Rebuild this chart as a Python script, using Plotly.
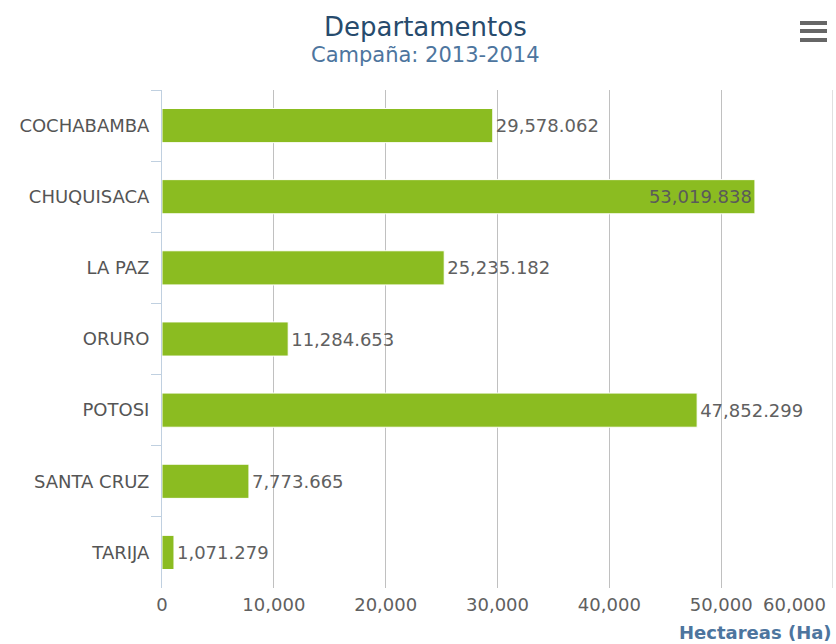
import plotly.graph_objects as go

# Data
departamentos = ["COCHABAMBA", "CHUQUISACA", "LA PAZ", "ORURO", "POTOSI", "SANTA CRUZ", "TARIJA"]
hectareas = [29578.062, 53019.838, 25235.182, 11284.653, 47852.299, 7773.665, 1071.279]
x_tick_vals = [0, 10000, 20000, 30000, 40000, 50000]
x_tick_text = ["0", "10,000", "20,000", "30,000", "40,000", "50,000"]
x_max = 60000
x_max_label = "60,000"
title_text = "Departamentos"
subtitle_text = "Campaña: 2013-2014"
axis_title = "Hectareas (Ha)"

W, H = 836, 644
L, R, T, B = 162, 3, 90, 56
PW = W - L - R
PH = H - T - B

def px_x(px):
    return (px - L) / PW

def px_y(py):
    return (H - B - py) / PH

FONT = "DejaVu Sans"

text_pos = ["inside" if v > 50000 else "outside" for v in hectareas]

fig = go.Figure()
fig.add_trace(go.Bar(
    y=departamentos,
    x=hectareas,
    orientation="h",
    marker=dict(color="#8BBC21", line=dict(color="#FFFFFF", width=1)),
    texttemplate="%{x:,.3f}",
    textposition=text_pos,
    insidetextanchor="end",
    textfont=dict(family=FONT, size=18, color="#606060"),
    insidetextfont=dict(family=FONT, size=18, color="#5a5a5a"),
    outsidetextfont=dict(family=FONT, size=18, color="#606060"),
    cliponaxis=False,
    hoverinfo="skip",
))

fig.update_layout(
    width=W, height=H,
    margin=dict(l=L, r=R, t=T, b=B, pad=0),
    paper_bgcolor="white",
    plot_bgcolor="white",
    showlegend=False,
    bargap=0.52,
    font=dict(family=FONT, color="#606060"),
    uniformtext=dict(mode=False),
)

fig.update_xaxes(
    range=[0, x_max],
    tickvals=x_tick_vals,
    ticktext=x_tick_text,
    showgrid=True,
    gridcolor="#C0C0C0",
    gridwidth=1,
    zeroline=False,
    showline=False,
    ticks="",
    ticklabelstandoff=4,
    tickfont=dict(family=FONT, size=18, color="#606060"),
    fixedrange=True,
)

fig.update_yaxes(
    categoryorder="array",
    categoryarray=departamentos,
    autorange="reversed",
    showgrid=False,
    zeroline=False,
    showline=True,
    linecolor="#C0D0E0",
    linewidth=1,
    ticks="outside",
    tickson="boundaries",
    ticklen=10,
    tickcolor="#C0D0E0",
    ticklabelstandoff=8,
    tickfont=dict(family=FONT, size=18, color="#555555"),
    fixedrange=True,
)

# extra gridline at the max
fig.add_shape(type="line", xref="x", yref="paper", x0=x_max, x1=x_max, y0=0, y1=1,
              line=dict(color="#C0C0C0", width=1))

annotations = [
    dict(text=title_text, xref="paper", yref="paper", x=px_x(425), y=px_y(27),
         xanchor="center", yanchor="middle", showarrow=False,
         font=dict(family=FONT, size=26, color="#274B6D")),
    dict(text=subtitle_text, xref="paper", yref="paper", x=px_x(425), y=px_y(55),
         xanchor="center", yanchor="middle", showarrow=False,
         font=dict(family=FONT, size=21, color="#4D759E")),
    dict(text="<b>" + axis_title + "</b>", xref="paper", yref="paper", x=px_x(834), y=px_y(632),
         xanchor="right", yanchor="middle", showarrow=False,
         font=dict(family=FONT, size=18, color="#4D759E")),
    dict(text=x_max_label, xref="paper", yref="paper", x=px_x(828), y=px_y(604),
         xanchor="right", yanchor="middle", showarrow=False,
         font=dict(family=FONT, size=18, color="#606060")),
]
fig.update_layout(annotations=annotations)

# hamburger menu icon
for py in [23, 31, 40]:
    fig.add_shape(type="line", xref="paper", yref="paper",
                  x0=px_x(800), x1=px_x(827), y0=px_y(py), y1=px_y(py),
                  line=dict(color="#666666", width=4))

fig.write_html("out.html", config={"displayModeBar": False},
               post_script="document.body.style.margin='0';document.body.style.overflow='hidden';")
